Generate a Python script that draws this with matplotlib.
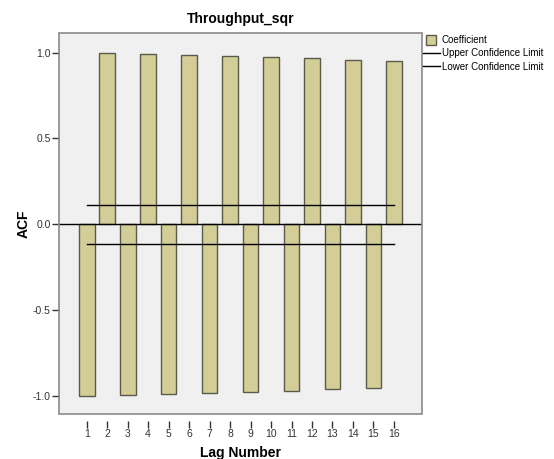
import matplotlib
matplotlib.use("Agg")
import matplotlib.pyplot as plt
from matplotlib.lines import Line2D
from matplotlib.patches import Rectangle

plt.rcParams["font.family"] = ["Liberation Sans", "DejaVu Sans"]

# ACF values
lags = list(range(1, 17))
acf = [-1.000, 0.998, -0.994, 0.992, -0.988, 0.986, -0.983, 0.980,
       -0.975, 0.972, -0.969, 0.967, -0.961, 0.959, -0.953, 0.951]
upper_limit = 0.115
lower_limit = -0.116

bar_color = "#D3CE98"
edge_color = "#5a5a4a"
frame_color = "#8a8a8a"

fig = plt.figure(figsize=(5.54, 4.59), dpi=100)
ax = fig.add_axes([59 / 554, 1 - 414 / 459, (422 - 59) / 554, (414 - 33) / 459])
ax.set_facecolor("#F0F0F0")

ax.bar(lags, acf, width=0.77, color=bar_color, edgecolor=edge_color, linewidth=1.0, zorder=2)
ax.axhline(0, color="black", linewidth=1.0, zorder=3)
ax.plot([lags[0], lags[-1]], [upper_limit, upper_limit], color="black", linewidth=1.0, zorder=3)
ax.plot([lags[0], lags[-1]], [lower_limit, lower_limit], color="black", linewidth=1.0, zorder=3)

ax.set_xlim(-0.35, 17.37)
ax.set_ylim(-1.105, 1.114)

ax.set_xticks(lags)
ax.set_yticks([-1.0, -0.5, 0.0, 0.5, 1.0])
ax.set_yticklabels(["-1.0", "-0.5", "0.0", "0.5", "1.0"])
ax.tick_params(axis="both", labelsize=7.5, colors="#333333", length=5, width=1.0)
ax.tick_params(axis="x", pad=1)
ax.tick_params(axis="y", pad=1)

for side in ["top", "right", "left"]:
    ax.spines[side].set_visible(False)
ax.spines["bottom"].set_position(("outward", 5))
ax.spines["bottom"].set_visible(False)
ax.add_patch(Rectangle((0, 0), 1, 1, transform=ax.transAxes, fill=False,
                       edgecolor=frame_color, linewidth=1.2, clip_on=False, zorder=5))

ax.set_title("Throughput_sqr", fontsize=10, fontweight="bold", pad=7)
ax.set_xlabel("Lag Number", fontsize=10, fontweight="bold")
ax.set_ylabel("ACF", fontsize=10, fontweight="bold")
ax.xaxis.set_label_coords(0.5, -0.083)
ax.yaxis.set_label_coords(-0.078, 0.5)

handles = [
    Line2D([], [], linestyle="none", marker="s", markersize=7,
           markerfacecolor=bar_color, markeredgecolor=edge_color, markeredgewidth=1.0),
    Line2D([], [], color="black", linewidth=1.0),
    Line2D([], [], color="black", linewidth=1.0),
]
fig.legend(handles, ["Coefficient", "Upper Confidence Limit", "Lower Confidence Limit"],
           loc="upper left", bbox_to_anchor=(422 / 554, 1 - 34 / 459), frameon=False,
           fontsize=7, handlelength=1.75, handletextpad=0.2, labelspacing=0.35,
           borderpad=0.1, borderaxespad=0.0)

fig.savefig("out.png", dpi=100)
